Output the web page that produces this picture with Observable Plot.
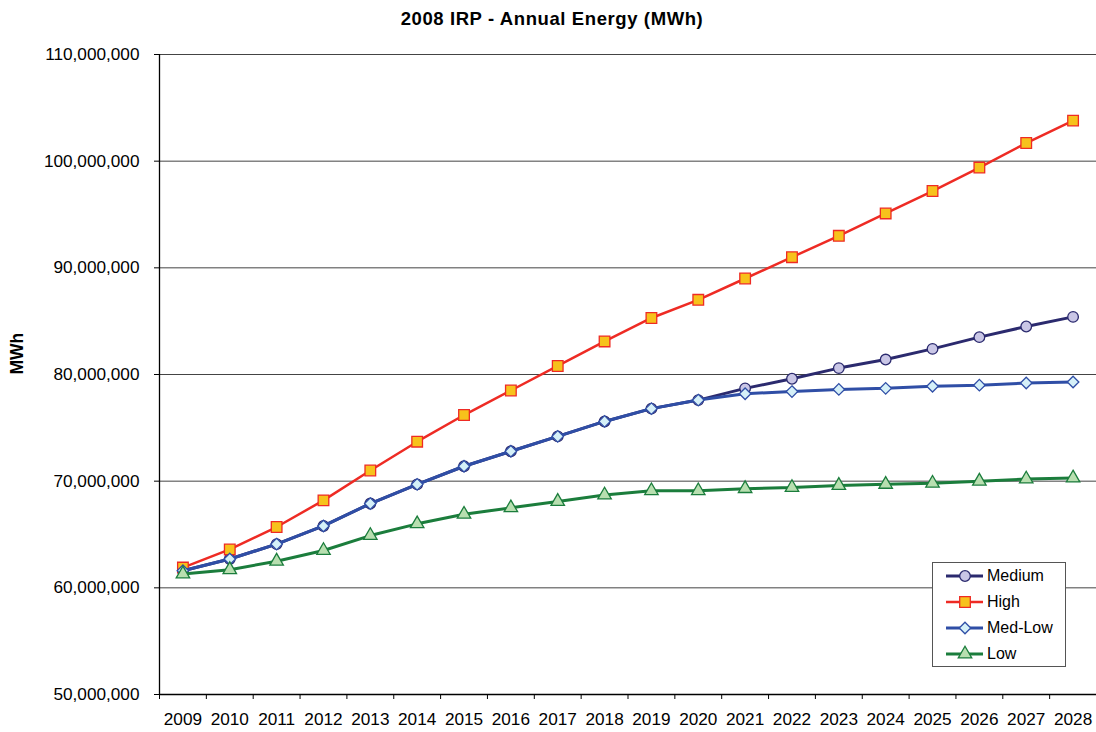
<!DOCTYPE html>
<html>
<head>
<meta charset="utf-8">
<script src="https://cdn.jsdelivr.net/npm/d3@7"></script>
<script src="https://cdn.jsdelivr.net/npm/@observablehq/plot@0.6"></script>
<style>
  html, body { margin: 0; padding: 0; background: #fff; }
  #wrap { position: relative; width: 1096px; height: 732px; font-family: Arial, "Liberation Sans", sans-serif; }
  #title { position: absolute; left: 4px; top: 0; width: 1096px; height: 36px; line-height: 37px; text-align: center; font-weight: bold; font-size: 18.5px; letter-spacing: 0.6px; color: #000; }
  #chart { position: absolute; left: 0; top: 36px; }
  #legend { position: absolute; left: 932px; top: 562px; width: 132px; height: 103px; border: 1px solid #555; background: #fff; }
  .row { position: absolute; left: 0; height: 26px; display: flex; align-items: center; font-size: 16px; color: #000; }
  .row svg { display: block; }
</style>
</head>
<body>
<div id="wrap">
  <div id="title">2008 IRP - Annual Energy (MWh)</div>
  <div id="chart"></div>
  <div id="legend"></div>
</div>
<script>
const years = [2009,2010,2011,2012,2013,2014,2015,2016,2017,2018,2019,2020,2021,2022,2023,2024,2025,2026,2027,2028];
const medium = [61.6,62.7,64.1,65.8,67.9,69.7,71.4,72.8,74.2,75.6,76.8,77.6,78.7,79.6,80.6,81.4,82.4,83.5,84.5,85.4];
const high   = [61.9,63.6,65.7,68.2,71.0,73.7,76.2,78.5,80.8,83.1,85.3,87.0,89.0,91.0,93.0,95.1,97.2,99.4,101.7,103.8];
const medLow = [61.6,62.7,64.1,65.8,67.9,69.7,71.4,72.8,74.2,75.6,76.8,77.6,78.2,78.4,78.6,78.7,78.9,79.0,79.2,79.3];
const low    = [61.3,61.7,62.5,63.5,64.9,66.0,66.9,67.5,68.1,68.7,69.1,69.1,69.3,69.4,69.6,69.7,69.8,70.0,70.2,70.3];
const yTicks = [50e6,60e6,70e6,80e6,90e6,100e6,110e6];

const series = [
  {name: "Medium",  values: medium, line: "#2b2a6e", fill: "#c9c6e6", stroke: "#2b2a6e", symbol: "circle",   r: 5.3, sw: 3},
  {name: "High",    values: high,   line: "#ee2b24", fill: "#f7c21b", stroke: "#ee2b24", symbol: "square",   r: 6.0, sw: 2.5},
  {name: "Med-Low", values: medLow, line: "#2f4ea6", fill: "#d5f0f8", stroke: "#2f4ea6", symbol: "diamond2", r: 5.2, sw: 3},
  {name: "Low",     values: low,    line: "#1b7d3c", fill: "#b8dfb0", stroke: "#1b7d3c", symbol: "triangle", r: 5.0, sw: 3}
];

const bounds = years.map(y => y - 0.5).concat([years[years.length - 1] + 0.5]);

const marks = [
  Plot.gridY(yTicks, {stroke: "#444", strokeOpacity: 1, strokeWidth: 1}),
  Plot.axisY({ticks: yTicks, tickFormat: d3.format(","), tickSize: 5, tickPadding: 15, fontSize: 17.2, label: null}),
  Plot.axisX({ticks: bounds, tickFormat: () => "", tickSize: 5, label: null}),
  Plot.axisX({ticks: years, tickFormat: d => String(d), tickSize: 0, tickPadding: 18, fontSize: 17.2, label: null}),
  Plot.ruleX([bounds[0]], {stroke: "#000", strokeWidth: 1.3}),
  Plot.ruleY([50e6], {stroke: "#000", strokeWidth: 1.3}),
  Plot.text(["MWh"], {frameAnchor: "left", dx: -142, rotate: -90, fontWeight: "bold", fontSize: 17.5, fill: "#000"})
];
for (const s of series) {
  const data = years.map((yr, i) => ({year: yr, value: s.values[i] * 1e6}));
  marks.push(Plot.line(data, {x: "year", y: "value", stroke: s.line, strokeWidth: s.sw}));
  marks.push(Plot.dot(data, {x: "year", y: "value", symbol: () => s.symbol, r: s.r, fill: s.fill, stroke: s.stroke, strokeWidth: 1.3}));
}

const chart = Plot.plot({
  width: 1096,
  height: 696,
  marginTop: 18,
  marginBottom: 38,
  marginLeft: 159,
  marginRight: 0,
  style: {fontFamily: "Arial, 'Liberation Sans', sans-serif", fontSize: "17.2px", color: "#000", background: "#fff", overflow: "visible"},
  x: {type: "linear", domain: [bounds[0], bounds[bounds.length - 1]], axis: null},
  y: {type: "linear", domain: [50e6, 110e6], axis: null},
  marks
});
document.getElementById("chart").appendChild(chart);

// legend
const legend = document.getElementById("legend");
const symMap = {circle: d3.symbolCircle, square: d3.symbolSquare, diamond2: d3.symbolDiamond2, triangle: d3.symbolTriangle};
series.forEach((s, i) => {
  const row = document.createElement("div");
  row.className = "row";
  row.style.top = (i * 26) + "px";
  const size = Math.PI * s.r * s.r;
  const path = d3.symbol(symMap[s.symbol], size)();
  row.innerHTML = `<svg width="54" height="26"><line x1="13" x2="50" y1="13" y2="13" stroke="${s.line}" stroke-width="${s.sw}"/>` +
    `<path transform="translate(32,13)" d="${path}" fill="${s.fill}" stroke="${s.stroke}" stroke-width="1.3"/></svg>` +
    `<span>${s.name}</span>`;
  legend.appendChild(row);
});
</script>
</body>
</html>
